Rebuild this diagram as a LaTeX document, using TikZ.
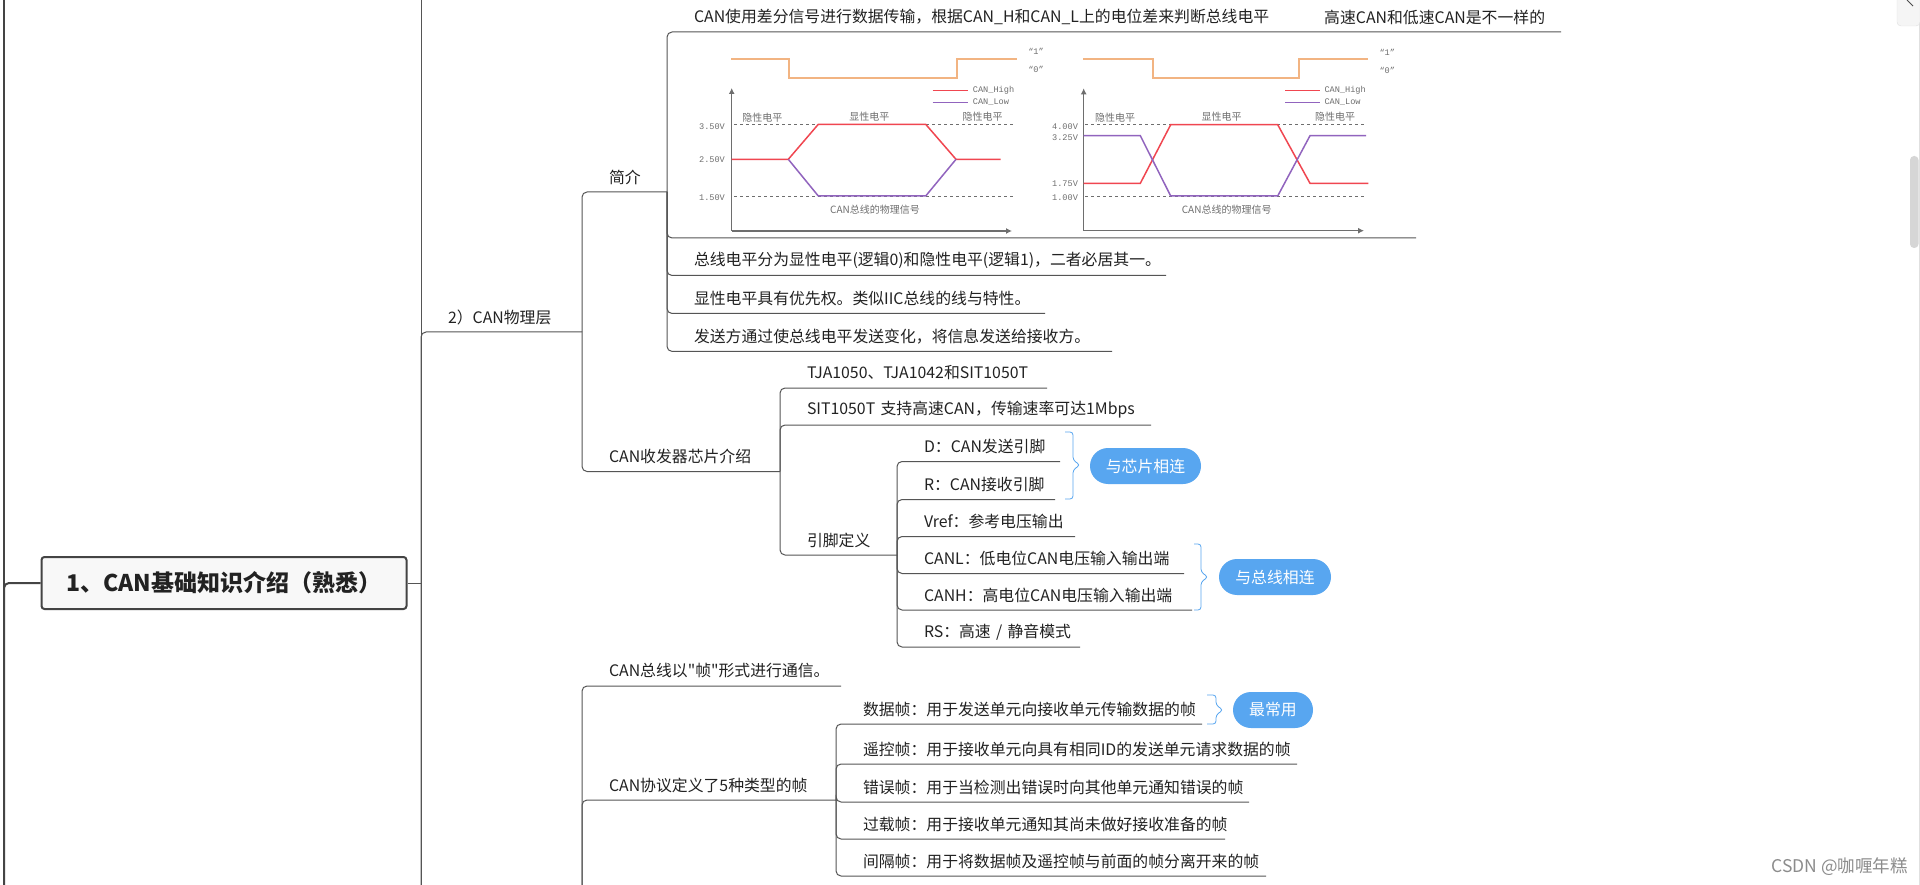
\documentclass[tikz,border=0pt]{standalone}
\usepackage{fontspec}
\usepackage{xcolor}
\setmainfont{Noto Sans CJK SC}
\newfontfamily\wavemono{Liberation Mono}
\newfontfamily\plainquote{Noto Sans CJK SC}
\usetikzlibrary{positioning,arrows.meta}
\definecolor{linkgray}{RGB}{85,85,85}
\definecolor{rootdark}{RGB}{68,68,68}
\definecolor{rootfill}{RGB}{248,248,248}
\definecolor{textdark}{RGB}{34,34,34}
\definecolor{pillblue}{RGB}{88,166,240}
\definecolor{wavered}{RGB}{240,70,80}
\definecolor{wavepurple}{RGB}{145,100,190}
\definecolor{waveorange}{RGB}{242,180,130}
\definecolor{wavegray}{RGB}{110,110,110}
\tikzset{
  topic/.style={anchor=south west, text width=#1, minimum height=30pt, inner sep=0pt, outer sep=0pt, align=left, text=textdark, font=\fontsize{15.85}{18}\selectfont, execute at begin node=\hspace*{27pt}},
  rootbox/.style={rounded corners=3pt, draw=rootdark, line width=2pt, fill=rootfill, text=textdark, minimum width=365pt, minimum height=52pt, inner sep=0pt, font=\fontsize{23}{27}\selectfont\bfseries},
  pill/.style={rounded corners=18pt, fill=pillblue, text=white, minimum height=36pt, inner sep=0pt, font=\fontsize{15.85}{18}\selectfont},
  link/.style={draw=linkgray, line width=1pt, rounded corners=5pt},
  rootlink/.style={draw=rootdark, line width=2pt, rounded corners=5pt},
  bracket/.style={draw=pillblue, line width=0.8pt, rounded corners=3pt},
  axis/.style={-{Latex[length=6pt,width=6pt]}, draw=wavegray, line width=1.3pt},
  level/.style={draw=wavegray, line width=0.7pt, dashed},
  bus/.style={draw=waveorange, line width=1.8pt},
  high/.style={draw=wavered, line width=1.5pt},
  low/.style={draw=wavepurple, line width=1.5pt},
  tag/.style={text=wavegray, inner sep=0pt, font=\fontsize{10}{12}\selectfont},
  volt/.style={text=wavegray, inner sep=0pt, font=\fontsize{8.6}{10}\selectfont\wavemono},
}
\begin{document}
\begin{tikzpicture}[x=1pt,y=-1pt]
    \useasboundingbox (0,0) rectangle (1920,885);
    \fill[white] (0,0) rectangle (1920,885);

    \node[rootbox] (root) at (224,583) {1、CAN基础知识介绍（熟悉）};
    \coordinate (farleft) at (4,885);
    \draw[rootlink] (4,0) -- (farleft);
    \draw[rootlink] (root.west) -| (farleft);

    \coordinate (maintop) at (421,0);
    \coordinate (mainbot) at (421,885);
    \node[topic=161pt] (phy) at (421,332) {2）CAN物理层};
    \draw[link] (maintop) -- (mainbot);
    \draw[link] (root.east) -- (root.east -| mainbot);
    \draw[link] (mainbot) |- (phy.south east);

    \node[topic=85pt] (intro) at (582,192) {简介};
    \node[topic=198pt] (xcvr) at (582,471.5) {CAN收发器芯片介绍};
    \draw[link] (phy.south east) |- (intro.south east);
    \draw[link] (phy.south east) |- (xcvr.south east);

    \node[topic=894pt] (diff) at (667,32) {CAN使用差分信号进行数据传输，根据CAN\_H和CAN\_L上的电位差来判断总线电平};
    \node[anchor=west, inner sep=0pt, text=textdark, font=\fontsize{15.85}{18}\selectfont] (speed) at (1324,17) {高速CAN和低速CAN是不一样的};
    \node[topic=749pt, minimum height=200pt] (wave) at (667,238) {};
    \node[topic=499pt] (lvl) at (667,275.5) {总线电平分为显性电平(逻辑0)和隐性电平(逻辑1)，二者必居其一。};
    \node[topic=378pt] (prio) at (667,313.5) {显性电平具有优先权。类似IIC总线的线与特性。};
    \node[topic=445pt] (send) at (667,351.4) {发送方通过使总线电平发送变化，将信息发送给接收方。};
    \foreach \n in {diff,wave,lvl,prio,send} \draw[link] (intro.south east) |- (\n.south east);

    \node[topic=267pt] (tja) at (780,388) {TJA1050、TJA1042和SIT1050T};
    \node[topic=371pt] (sit) at (780,425) {SIT1050T 支持高速CAN，传输速率可达1Mbps};
    \node[topic=117pt] (pins) at (780,555) {引脚定义};
    \foreach \n in {tja,sit,pins} \draw[link] (xcvr.south east) |- (\n.south east);

    \node[topic=163pt] (pind) at (897,461.5) {D：CAN发送引脚};
    \node[topic=158pt] (pinr) at (897,499.5) {R：CAN接收引脚};
    \node[topic=178pt] (vref) at (897,536.5) {Vref：参考电压输出};
    \node[topic=287pt] (canl) at (897,573.5) {CANL：低电位CAN电压输入输出端};
    \node[topic=295pt] (canh) at (897,610) {CANH：高电位CAN电压输入输出端};
    \node[topic=183pt] (rs) at (897,647) {RS：高速 / 静音模式};
    \foreach \n in {pind,pinr,vref,canl,canh,rs} \draw[link] (pins.south east) |- (\n.south east);

    \coordinate (chiptop) at (1065,432);
    \coordinate (chipbot) at (1065,499);
    \draw[bracket] (chiptop) -- ++(8,0) -- ++(0,28) -- ++(7,5) -- ++(-7,5) -- ++(0,29) -- (chipbot);
    \node[pill, minimum width=111pt] (chip) at (1145.5,466) {与芯片相连};
    \coordinate (bustop) at (1194,544);
    \coordinate (busbot) at (1194,610);
    \draw[bracket] (bustop) -- ++(7,0) -- ++(0,28) -- ++(7,5) -- ++(-7,5) -- ++(0,28) -- (busbot);
    \node[pill, minimum width=112pt] (busline) at (1275,577) {与总线相连};

    \coordinate (lowbot) at (582,885);
    \node[topic=259pt] (frame) at (582,686) {CAN总线以{\plainquote"}帧{\plainquote"}形式进行通信。};
    \node[topic=254pt] (proto) at (582,800) {CAN协议定义了5种类型的帧};
    \draw[link] (lowbot) |- (frame.south east);
    \draw[link] (lowbot) |- (proto.south east);

    \node[topic=366pt] (data) at (836,724) {数据帧：用于发送单元向接收单元传输数据的帧};
    \node[topic=461pt] (remote) at (836,764) {遥控帧：用于接收单元向具有相同ID的发送单元请求数据的帧};
    \node[topic=413pt] (error) at (836,802) {错误帧：用于当检测出错误时向其他单元通知错误的帧};
    \node[topic=389pt] (over) at (836,839) {过载帧：用于接收单元通知其尚未做好接收准备的帧};
    \node[topic=430pt] (gap) at (836,876) {间隔帧：用于将数据帧及遥控帧与前面的帧分离开来的帧};
    \foreach \n in {data,remote,error,over,gap} \draw[link] (proto.south east) |- (\n.south east);

    \coordinate (datatop) at (1207,695);
    \coordinate (databot) at (1207,724);
    \draw[bracket] (datatop) -- ++(9,0) -- ++(0,10) -- ++(7,5) -- ++(-7,5) -- ++(0,9) -- (databot);
    \node[pill, minimum width=80pt] (most) at (1273,710) {最常用};

    \draw[bus] (731.4,58.7) -- (788.6,58.7) -- (788.6,77.7) -- (957,77.7) -- (957,58.7) -- (1016.8,58.7);
    \draw[axis] (731.7,231) -- (731.7,88);
    \draw[axis] (731.7,231) -- (1012,231);
    \draw[level] (734,124.3) -- (1013,124.3);
    \draw[level] (734,196) -- (1013,196);
    \draw[high] (731.7,159.3) -- (788.3,159.3) -- (818.3,124.3) -- (925.7,124.3) -- (956,159.3) -- (1000.7,159.3);
    \draw[low] (788.3,159.3) -- (818.3,196) -- (925.7,196) -- (956,159.3);
    \draw[high] (932.7,90.3) -- (968.3,90.3);
    \draw[low] (932.7,102.3) -- (968.3,102.3);
    \foreach \y/\t [count=\i] in {126.7/3.50V,159.3/2.50V,197.7/1.50V}
      \node[volt] (va\i) at (712,\y) {\t};
    \foreach \x/\y/\t [count=\i] in {762.3/117.7/隐性电平,869.3/116.7/显性电平,982.7/116.7/隐性电平,875/210/CAN总线的物理信号}
      \node[tag] (ta\i) at (\x,\y) {\t};
    \node[volt, anchor=west] (hia) at (972.7,90.5) {CAN\_High};
    \node[volt, anchor=west] (loa) at (972.7,102.5) {CAN\_Low};
    \node[volt] (onea) at (1036,51.7) {“1”};
    \node[volt] (zeroa) at (1036,69.3) {“0”};

    \draw[bus] (1083.3,58.7) -- (1152.7,58.7) -- (1152.7,77.7) -- (1298.7,77.7) -- (1298.7,58.7) -- (1368.3,58.7);
    \draw[axis] (1083.7,230.7) -- (1083.7,88.3);
    \draw[axis] (1083.7,230.7) -- (1364,230.7);
    \draw[level] (1085,124.7) -- (1366,124.7);
    \draw[level] (1085,196) -- (1366,196);
    \draw[high] (1083.7,183.3) -- (1140.3,183.3) -- (1170.7,124.7) -- (1277.7,124.7) -- (1310,183.3) -- (1368.3,183.3);
    \draw[low] (1083.7,135.7) -- (1140.3,135.7) -- (1170.7,196) -- (1277.7,196) -- (1310,135.7) -- (1366,135.7);
    \draw[high] (1285,90.7) -- (1320,90.7);
    \draw[low] (1285,102.7) -- (1320,102.7);
    \foreach \y/\t [count=\i] in {126.7/4.00V,138/3.25V,184/1.75V,197.7/1.00V}
      \node[volt] (vb\i) at (1065,\y) {\t};
    \foreach \x/\y/\t [count=\i] in {1115/117.7/隐性电平,1221.7/116.7/显性电平,1335/116.7/隐性电平,1226.7/210/CAN总线的物理信号}
      \node[tag] (tb\i) at (\x,\y) {\t};
    \node[volt, anchor=west] (hib) at (1324.3,90.5) {CAN\_High};
    \node[volt, anchor=west] (lob) at (1324.3,102.5) {CAN\_Low};
    \node[volt] (oneb) at (1387.3,52.3) {“1”};
    \node[volt] (zerob) at (1387.3,70) {“0”};

    \node[anchor=east, inner sep=0pt, text=black!45, font=\fontsize{17.5}{20}\selectfont] (mark) at (1908,867) {CSDN @咖喱年糕};
    \fill[black!16, rounded corners=4pt] (1910,156) rectangle (1918.5,248);
    \draw[black!12, line width=1pt] (1919.5,0) -- (1919.5,885);
    \draw[black!12, fill=black!4, rounded corners=4pt] (1897,-6) -- (1897,26) -- (1920,26) -- (1920,-6);
    \draw[black!70, line width=1pt] (1907,0) -- (1913,6);
\end{tikzpicture}
\end{document}
